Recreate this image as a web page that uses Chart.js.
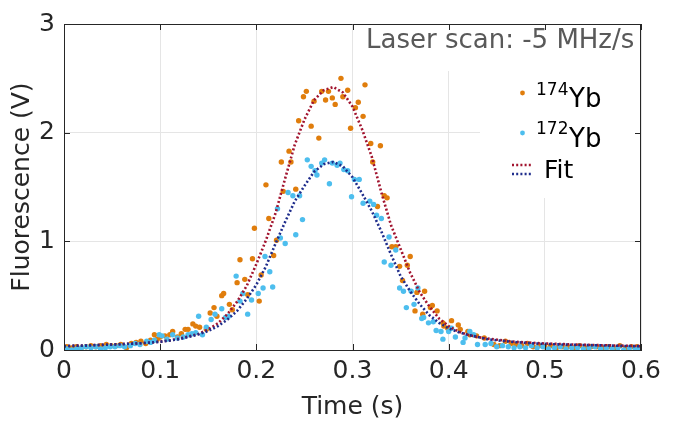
<!DOCTYPE html>
<html>
<head>
<meta charset="utf-8">
<script src="https://cdn.jsdelivr.net/npm/chart.js@4/dist/chart.umd.min.js"></script>
<style>
  body { margin: 0; background: #fff; }
  #wrap { width: 678px; height: 422px; }
</style>
</head>
<body>
<div id="wrap"><canvas id="c" width="678" height="422"></canvas></div>
<script>
// measured points [time s, fluorescence V]
var yb174 = [
  [0.003,0.03],[0.008,0.02],[0.013,0.03],[0.018,0.02],[0.023,0.03],[0.028,0.04],[0.033,0.03],[0.038,0.04],
  [0.044,0.05],[0.049,0.04],[0.054,0.04],[0.059,0.05],[0.065,0.02],[0.070,0.06],[0.075,0.07],[0.080,0.08],
  [0.085,0.06],[0.090,0.09],[0.094,0.14],[0.097,0.10],[0.100,0.12],[0.105,0.13],[0.110,0.14],[0.113,0.17],
  [0.118,0.12],[0.122,0.15],[0.126,0.19],[0.129,0.19],[0.134,0.24],[0.137,0.22],[0.141,0.21],[0.148,0.19],
  [0.152,0.34],[0.156,0.39],[0.159,0.31],[0.164,0.50],[0.166,0.52],[0.172,0.42],[0.175,0.37],[0.180,0.62],
  [0.183,0.83],[0.188,0.65],[0.191,0.51],[0.196,0.84],[0.198,1.12],[0.203,0.45],[0.205,0.69],[0.210,1.52],
  [0.213,1.21],[0.218,0.87],[0.221,1.01],[0.226,1.73],[0.228,1.46],[0.234,1.83],[0.236,1.73],[0.241,1.48],
  [0.244,2.11],[0.249,2.33],[0.252,2.38],[0.257,2.06],[0.260,2.29],[0.265,1.95],[0.268,2.38],[0.272,2.30],
  [0.275,2.38],[0.279,2.32],[0.282,2.26],[0.288,2.50],[0.290,2.33],[0.295,2.39],[0.298,2.04],[0.303,2.23],
  [0.306,2.28],[0.311,2.15],[0.313,2.44],[0.319,1.90],[0.321,1.73],[0.326,1.32],[0.329,1.88],[0.333,1.42],
  [0.336,1.40],[0.341,0.95],[0.345,0.95],[0.349,0.77],[0.352,0.64],[0.357,0.78],[0.360,0.86],[0.365,0.36],
  [0.367,0.53],[0.373,0.33],[0.375,0.54],[0.381,0.39],[0.383,0.41],[0.388,0.36],[0.394,0.25],[0.395,0.22],
  [0.399,0.20],[0.403,0.27],[0.410,0.23],[0.412,0.19],[0.420,0.17],[0.422,0.14],[0.429,0.13],[0.437,0.11],
  [0.447,0.05],[0.453,0.04],[0.459,0.08],[0.465,0.06],[0.470,0.05],[0.476,0.04],[0.482,0.06],[0.488,0.03],
  [0.494,0.04],[0.500,0.03],[0.506,0.04],[0.512,0.02],[0.518,0.03],[0.524,0.03],[0.530,0.02],[0.536,0.04],
  [0.542,0.02],[0.548,0.03],[0.554,0.03],[0.560,0.02],[0.566,0.03],[0.572,0.02],[0.578,0.04],[0.584,0.02],
  [0.590,0.03],[0.596,0.03]
];
var yb172 = [
  [0.003,0.01],[0.008,0.00],[0.013,0.01],[0.018,0.02],[0.023,0.03],[0.028,0.02],[0.033,0.03],[0.038,0.01],
  [0.043,0.02],[0.048,0.03],[0.053,0.03],[0.058,0.04],[0.063,0.03],[0.069,0.04],[0.074,0.06],[0.079,0.05],
  [0.086,0.08],[0.090,0.07],[0.094,0.09],[0.099,0.14],[0.102,0.13],[0.107,0.10],[0.113,0.14],[0.118,0.11],
  [0.124,0.12],[0.129,0.14],[0.133,0.15],[0.137,0.16],[0.140,0.31],[0.144,0.14],[0.148,0.21],[0.153,0.28],
  [0.157,0.33],[0.164,0.38],[0.168,0.30],[0.171,0.31],[0.179,0.68],[0.183,0.45],[0.186,0.52],[0.191,0.33],
  [0.195,0.46],[0.202,0.52],[0.207,0.57],[0.209,0.86],[0.214,0.72],[0.217,0.58],[0.222,1.30],[0.225,1.03],
  [0.230,0.98],[0.233,1.45],[0.238,1.42],[0.241,1.06],[0.245,1.42],[0.248,1.20],[0.253,1.75],[0.257,1.69],
  [0.261,1.65],[0.263,1.61],[0.268,1.72],[0.271,1.75],[0.276,1.53],[0.279,1.72],[0.284,1.70],[0.287,1.72],
  [0.291,1.66],[0.295,1.65],[0.299,1.41],[0.302,1.57],[0.307,1.57],[0.311,1.35],[0.318,1.37],[0.322,1.34],
  [0.325,1.24],[0.330,1.21],[0.333,0.81],[0.338,1.04],[0.340,0.78],[0.345,0.92],[0.349,0.57],[0.353,0.54],
  [0.356,0.39],[0.361,0.54],[0.364,0.42],[0.368,0.57],[0.372,0.29],[0.374,0.30],[0.379,0.25],[0.384,0.26],
  [0.387,0.18],[0.392,0.17],[0.394,0.10],[0.400,0.17],[0.403,0.20],[0.407,0.12],[0.415,0.07],[0.417,0.11],
  [0.422,0.17],[0.426,0.14],[0.430,0.05],[0.438,0.05],[0.444,0.06],[0.450,0.03],[0.456,0.04],[0.462,0.03],
  [0.468,0.02],[0.474,0.03],[0.480,0.02],[0.486,0.04],[0.492,0.02],[0.498,0.03],[0.504,0.01],[0.510,0.02],
  [0.516,0.03],[0.522,0.01],[0.528,0.02],[0.534,0.02],[0.540,0.01],[0.546,0.02],[0.552,0.03],[0.558,0.01],
  [0.564,0.02],[0.570,0.01],[0.576,0.02],[0.582,0.00],[0.588,0.02],[0.594,0.01],[0.599,0.02]
];

// fit curves, every 0.01 s
var fitT = [0,0.01,0.02,0.03,0.04,0.05,0.06,0.07,0.08,0.09,0.10,0.11,0.12,0.13,0.14,0.15,0.16,0.17,0.18,0.19,
  0.20,0.21,0.22,0.23,0.24,0.25,0.26,0.27,0.28,0.29,0.30,0.31,0.32,0.33,0.34,0.35,0.36,0.37,0.38,0.39,
  0.40,0.41,0.42,0.43,0.44,0.45,0.46,0.47,0.48,0.49,0.50,0.51,0.52,0.53,0.54,0.55,0.56,0.57,0.58,0.59,0.60];
var fit174 = [0.035,0.04,0.04,0.045,0.048,0.05,0.055,0.058,0.062,0.068,0.077,0.088,0.104,0.125,0.148,0.19,0.245,0.33,0.445,0.59,
  0.79,1.01,1.26,1.58,1.89,2.12,2.30,2.39,2.42,2.37,2.24,2.03,1.78,1.45,1.15,0.93,0.71,0.53,0.40,0.29,
  0.22,0.17,0.14,0.12,0.105,0.095,0.085,0.075,0.07,0.065,0.06,0.057,0.054,0.05,0.048,0.046,0.044,0.042,0.04,0.038,0.035];
var fit172 = [0.035,0.038,0.04,0.044,0.047,0.05,0.054,0.058,0.062,0.068,0.076,0.087,0.10,0.12,0.145,0.175,0.22,0.28,0.36,0.47,
  0.60,0.77,0.98,1.18,1.37,1.51,1.64,1.71,1.73,1.69,1.59,1.44,1.28,1.09,0.88,0.68,0.54,0.42,0.32,0.25,
  0.20,0.165,0.14,0.12,0.10,0.09,0.08,0.072,0.066,0.06,0.056,0.053,0.05,0.048,0.046,0.044,0.042,0.04,0.038,0.036,0.035];

var xTicks = [0, 0.1, 0.2, 0.3, 0.4, 0.5, 0.6];
var yTicks = [0, 1, 2, 3];

var ORANGE = '#e07d0c', LBLUE = '#4dbeee', RED = '#a2142f', NAVY = '#1f2d8c';
var AX = '#262626';
var FONT = 'DejaVu Sans';
var DOTS = [2, 2.2];

Chart.defaults.font.family = FONT;
Chart.defaults.color = AX;

function pts(arr){ return arr.map(function(p){ return {x:p[0], y:p[1]}; }); }
function fitPts(vals){ return fitT.map(function(t,i){ return {x:t, y:vals[i]}; }); }

var boxes = {
  id: 'boxes',
  beforeDatasetsDraw: function(chart){
    var ctx = chart.ctx, a = chart.chartArea;
    ctx.save();
    ctx.fillStyle = '#fff';
    ctx.fillRect(360, a.top + 1, a.right - 361, 46);   // annotation
    ctx.fillRect(480, a.top + 46, a.right - 481, 128); // legend
    ctx.restore();
  },
  afterDraw: function(chart){
    var ctx = chart.ctx, a = chart.chartArea;
    var xs = chart.scales.x, ys = chart.scales.y;
    ctx.save();
    ctx.strokeStyle = AX; ctx.lineWidth = 1;
    ctx.beginPath();
    ctx.moveTo(a.left, a.top + 0.5); ctx.lineTo(a.right, a.top + 0.5);
    ctx.moveTo(a.right - 0.5, a.top); ctx.lineTo(a.right - 0.5, a.bottom);
    xTicks.forEach(function(v){
      var px = Math.round(xs.getPixelForValue(v)) + 0.5;
      ctx.moveTo(px, a.bottom); ctx.lineTo(px, a.bottom - 6);
      ctx.moveTo(px, a.top); ctx.lineTo(px, a.top + 6);
    });
    yTicks.forEach(function(v){
      var py = Math.round(ys.getPixelForValue(v)) + 0.5;
      ctx.moveTo(a.left, py); ctx.lineTo(a.left + 6, py);
      ctx.moveTo(a.right, py); ctx.lineTo(a.right - 6, py);
    });
    ctx.stroke();

    // annotation
    ctx.fillStyle = '#595959';
    ctx.font = '26px ' + FONT;
    ctx.textBaseline = 'alphabetic';
    ctx.fillText('Laser scan: -5 MHz/s', 366, 48);

    // legend
    ctx.fillStyle = ORANGE;
    ctx.beginPath(); ctx.arc(522.5, 93, 2.4, 0, Math.PI * 2); ctx.fill();
    ctx.fillStyle = LBLUE;
    ctx.beginPath(); ctx.arc(522.5, 133, 2.4, 0, Math.PI * 2); ctx.fill();
    ctx.fillStyle = '#000';
    ctx.font = '17px ' + FONT; ctx.fillText('174', 536, 95);
    ctx.font = '26px ' + FONT; ctx.fillText('Yb', 569, 107);
    ctx.font = '17px ' + FONT; ctx.fillText('172', 536, 134);
    ctx.font = '26px ' + FONT; ctx.fillText('Yb', 569, 147);
    ctx.font = '25px ' + FONT; ctx.fillText('Fit', 544, 178);
    ctx.lineWidth = 2.6; ctx.setLineDash(DOTS);
    ctx.strokeStyle = RED;
    ctx.beginPath(); ctx.moveTo(512, 165); ctx.lineTo(532, 165); ctx.stroke();
    ctx.strokeStyle = NAVY;
    ctx.beginPath(); ctx.moveTo(512, 174); ctx.lineTo(532, 174); ctx.stroke();
    ctx.restore();
  }
};

new Chart(document.getElementById('c').getContext('2d'), {
  type: 'scatter',
  data: {
    datasets: [
      {label:'Fit 172', data: fitPts(fit172), showLine: true, pointRadius: 0, borderColor: NAVY, borderWidth: 2.6, borderDash: DOTS, order: 0},
      {label:'Fit 174', data: fitPts(fit174), showLine: true, pointRadius: 0, borderColor: RED, borderWidth: 2.6, borderDash: DOTS, order: 1},
      {label:'172Yb', data: pts(yb172), pointRadius: 2.7, pointBorderWidth: 0, backgroundColor: LBLUE, borderColor: LBLUE, order: 2},
      {label:'174Yb', data: pts(yb174), pointRadius: 2.7, pointBorderWidth: 0, backgroundColor: ORANGE, borderColor: ORANGE, order: 3}
    ]
  },
  options: {
    responsive: false,
    animation: false,
    layout: { padding: { top: 19, right: 37, left: 0, bottom: 0 } },
    plugins: { legend: { display: false }, tooltip: { enabled: false } },
    scales: {
      x: {
        type: 'linear', min: 0, max: 0.6,
        afterBuildTicks: function(s){ s.ticks = xTicks.map(function(v){ return {value: v}; }); },
        afterFit: function(s){ s.height = 72; },
        ticks: { font: { size: 25 }, color: AX, padding: 6, maxRotation: 0,
          callback: function(v){ return String(v); } },
        grid: { color: '#e5e5e5', drawTicks: false },
        border: { color: AX },
        title: { display: true, text: 'Time (s)', font: { size: 25 }, color: AX, padding: { top: 0, bottom: 0 } }
      },
      y: {
        min: 0, max: 3,
        afterBuildTicks: function(s){ s.ticks = yTicks.map(function(v){ return {value: v}; }); },
        afterFit: function(s){ s.width = 64; },
        ticks: { font: { size: 25 }, color: AX, padding: 9 },
        grid: { color: '#e5e5e5', drawTicks: false },
        border: { color: AX },
        title: { display: true, text: 'Fluorescence (V)', font: { size: 25 }, color: AX, padding: { top: 7, bottom: 0 } }
      }
    }
  },
  plugins: [boxes]
});
</script>
</body>
</html>
